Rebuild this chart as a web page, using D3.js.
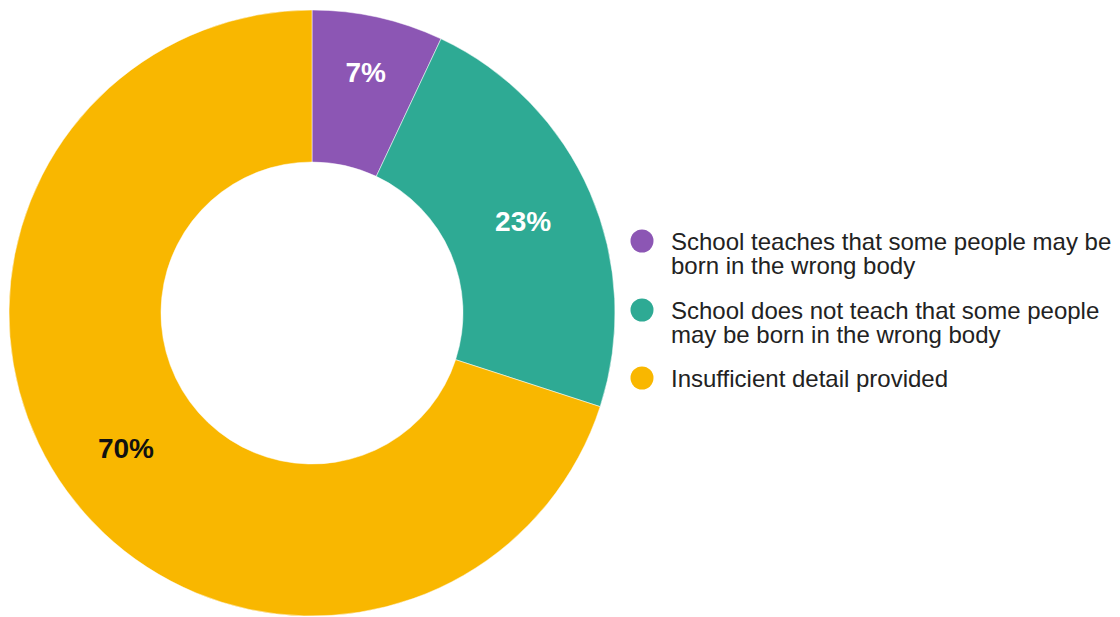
<!DOCTYPE html>
<html>
<head>
<meta charset="utf-8">
<script src="https://cdn.jsdelivr.net/npm/d3@7"></script>
<style>
  html, body { margin: 0; padding: 0; background: #fff; }
  svg { display: block; font-family: "Liberation Sans", Arial, sans-serif; }
</style>
</head>
<body>
<svg id="chart" width="1120" height="617"></svg>
<script>
// Share of responses by what the school teaches
const categories = [
  "School teaches that some people may be born in the wrong body",
  "School does not teach that some people may be born in the wrong body",
  "Insufficient detail provided"
];
const legendLines = [
  ["School teaches that some people may be", "born in the wrong body"],
  ["School does not teach that some people", "may be born in the wrong body"],
  ["Insufficient detail provided"]
];
const values = [7, 23, 70];
const colors = ["#8c56b4", "#2eaa94", "#f9b700"];
const labelColors = ["#ffffff", "#ffffff", "#111111"];

const svg = d3.select("#chart");
const cx = 312, cy = 313;
const outerR = 303, innerR = 151;

const pie = d3.pie().sort(null).value(d => d);
const arcs = pie(values);
const arc = d3.arc().innerRadius(innerR).outerRadius(outerR);
// narrow slices get their label pushed a little further out
const labelRadius = d => (d.endAngle - d.startAngle) < 0.6 ? 246 : 230;

const g = svg.append("g").attr("transform", `translate(${cx},${cy})`);

g.selectAll("path.slice")
  .data(arcs)
  .join("path")
  .attr("class", "slice")
  .attr("d", arc)
  .attr("fill", (d, i) => colors[i])
  .attr("stroke", "#ffffff")
  .attr("stroke-width", 0.5);

g.selectAll("text.value")
  .data(arcs)
  .join("text")
  .attr("class", "value")
  .attr("transform", d => {
    const r = labelRadius(d);
    const c = d3.arc().innerRadius(r).outerRadius(r).centroid(d);
    return `translate(${c})`;
  })
  .attr("text-anchor", "middle")
  .attr("dominant-baseline", "central")
  .attr("font-size", 28)
  .attr("font-weight", "bold")
  .attr("fill", (d, i) => labelColors[i])
  .text(d => d.data + "%");

// Legend
const legendX = 642;
const legendY = [241, 310, 378];
const legend = svg.append("g");
categories.forEach((c, i) => {
  const item = legend.append("g").attr("transform", `translate(${legendX},${legendY[i]})`);
  item.append("circle").attr("r", 11.5).attr("fill", colors[i]);
  const t = item.append("text")
    .attr("x", 29)
    .attr("y", 8.5)
    .attr("font-size", 24)
    .attr("fill", "#222222");
  legendLines[i].forEach((line, j) => {
    t.append("tspan").attr("x", 29).attr("dy", j === 0 ? 0 : 24).text(line);
  });
});
</script>
</body>
</html>
